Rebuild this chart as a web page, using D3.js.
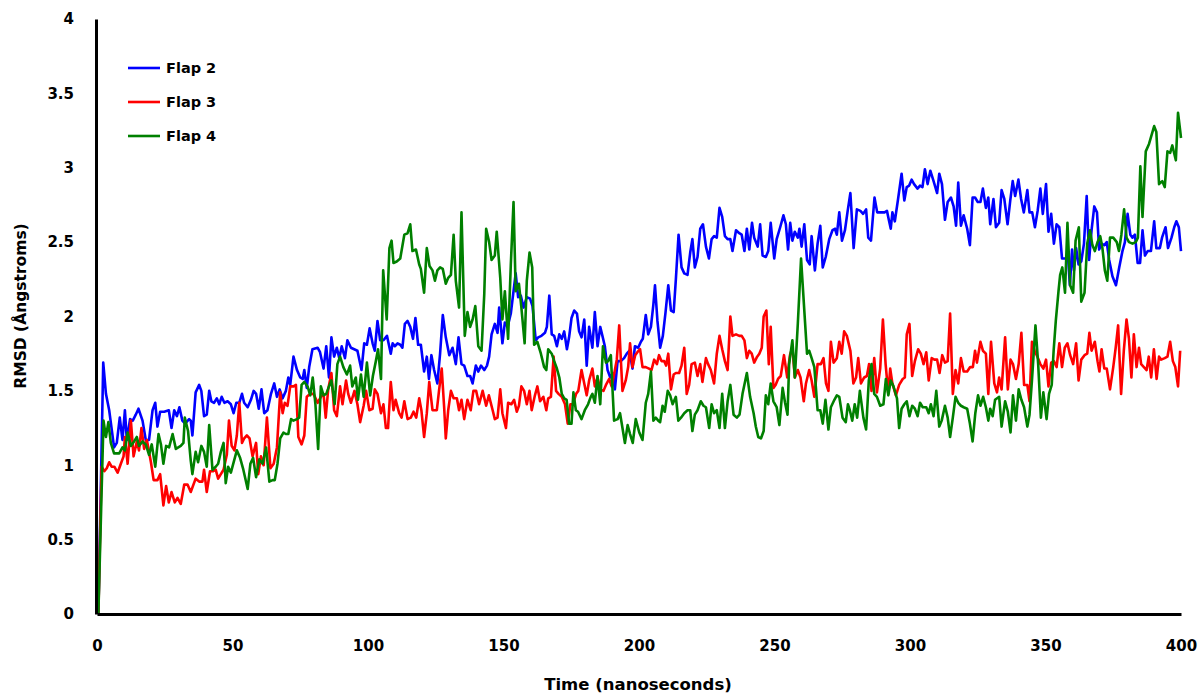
<!DOCTYPE html>
<html>
<head>
<meta charset="utf-8">
<script src="https://cdn.jsdelivr.net/npm/d3@7"></script>
<style>
  body { margin: 0; background: #fff; }
  svg text { font-family: "DejaVu Sans", Verdana, sans-serif; font-weight: bold; fill: #000; }
</style>
</head>
<body>
<div id="chart"></div>
<script>
// RMSD of three flaps over 400 ns, values as [time, rmsd]

const xTicks = [0, 50, 100, 150, 200, 250, 300, 350, 400];
const yTicks = [0, 0.5, 1, 1.5, 2, 2.5, 3, 3.5, 4];
const seriesNames = ['Flap 2', 'Flap 3', 'Flap 4'];
const seriesColors = ['#0000FF', '#FF0000', '#008000'];

const flap2 = [
  [0.5,0],[2.3,1.69],[3.3,1.48],[4.5,1.37],[6.3,1.12],[7.3,1.15],[8.4,1.32],[9.4,1.17],[10.3,1.37],[11,1.17],
  [12.2,1.31],[13.2,1.30],[14.3,1.34],[15.3,1.38],[16.8,1.30],[18,1.17],[19.2,1.17],[20.5,1.37],[21.5,1.42],[22.3,1.26],
  [23.3,1.36],[24.8,1.36],[26.5,1.37],[27.5,1.25],[28.5,1.37],[29.5,1.33],[30.4,1.39],[31.5,1.30],[32.5,1.28],[34,1.31],
  [34.6,1.30],[35.2,1.20],[36.4,1.49],[37.7,1.54],[38.5,1.50],[39.5,1.33],[40.5,1.34],[41.4,1.50],[42.2,1.43],[43.2,1.42],
  [44.2,1.45],[45.1,1.41],[46,1.46],[47,1.42],[48.2,1.43],[49.4,1.41],[50.4,1.35],[51.4,1.42],[52.5,1.42],[53.5,1.48],
  [54.3,1.42],[55.6,1.39],[56.8,1.44],[57.8,1.50],[58.7,1.48],[59.7,1.38],[60.7,1.51],[61.7,1.35],[62.9,1.37],[64.2,1.48],
  [65.4,1.55],[66.4,1.46],[67.4,1.51],[68.5,1.45],[69.7,1.50],[70.6,1.59],[71.3,1.54],[72.5,1.73],[73.8,1.64],[75,1.59],
  [75.9,1.58],[76.5,1.64],[77.4,1.52],[78.3,1.66],[79.5,1.78],[81.4,1.79],[82.3,1.76],[83.6,1.65],[84.6,1.80],[85.6,1.59],
  [86.5,1.86],[87.5,1.73],[88.5,1.79],[89.4,1.72],[90.3,1.80],[91.5,1.72],[92.4,1.84],[93.7,1.79],[94.9,1.78],[96.1,1.77],
  [97.6,1.64],[98.6,1.82],[99.6,1.81],[100.6,1.92],[101.7,1.82],[102.5,1.77],[103.5,1.97],[104.5,1.84],[105.7,1.84],[107,1.87],
  [108.4,1.75],[109.1,1.82],[109.9,1.80],[110.9,1.82],[111.9,1.81],[112.7,1.79],[113.6,1.95],[114.6,1.97],[115.6,1.93],[116.6,1.85],
  [117.5,1.99],[118.5,1.81],[119.5,1.81],[120.7,1.63],[121.7,1.73],[122.5,1.58],[123.4,1.74],[124.4,1.64],[125.6,1.55],[126.6,1.75],
  [127.6,2.01],[128.7,1.86],[130,1.74],[131.2,1.79],[132.4,1.68],[133.4,1.86],[134.5,1.68],[135.5,1.67],[136.7,1.60],[137.7,1.60],
  [138.6,1.55],[139.8,1.67],[140.7,1.63],[141.7,1.67],[142.9,1.64],[143.9,1.67],[144.7,1.73],[145.6,1.88],[146.8,1.95],[147.8,1.89],
  [148.4,2.06],[149.6,1.82],[150.5,1.96],[151.5,1.93],[152.7,2.02],[153.7,2.17],[154.5,2.29],[155.4,2.13],[156.4,2.14],[157.4,2.06],
  [158.6,2.13],[159.8,2.12],[160.7,2.07],[161.9,1.84],[162.8,1.86],[164,1.87],[165.3,1.89],[166,1.93],[166.9,2.14],[167.8,1.88],
  [168.7,1.87],[169.7,1.80],[170.6,1.88],[171.5,1.85],[172.4,1.90],[173.4,1.78],[174.2,1.86],[175.1,1.99],[176.1,2.04],[177.1,2.02],
  [177.9,1.90],[178.8,1.86],[179.8,1.98],[180.7,1.67],[181.6,1.93],[182.8,1.79],[183.7,2.03],[184.7,1.80],[185.7,1.93],[186.5,1.87],
  [187.4,1.80],[188.4,1.64],[189.4,1.59],[190.3,1.62],[191.1,1.51],[192.1,1.70],[193.3,1.70],[194.5,1.72],[195.5,1.75],[196.5,1.77],
  [197.6,1.65],[198.5,1.80],[199.7,1.79],[200.7,1.83],[201.4,1.85],[202.5,2.01],[203.4,1.88],[204.4,1.93],[205.3,2.08],[205.9,2.21],
  [206.8,1.97],[207.8,1.79],[208.8,1.87],[209.8,2.03],[210.8,2.21],[211.8,2.04],[212.8,2.03],[213.6,2.25],[214.6,2.55],[215.7,2.33],
  [216.7,2.29],[217.9,2.28],[218.9,2.43],[219.7,2.52],[220.6,2.33],[221.6,2.40],[222.6,2.59],[223.6,2.62],[224.7,2.47],[225.8,2.39],
  [226.8,2.52],[227.7,2.54],[228.7,2.53],[229.7,2.73],[230.7,2.67],[231.7,2.54],[232.7,2.52],[233.7,2.52],[234.5,2.44],[235.8,2.58],
  [237,2.56],[237.9,2.55],[238.9,2.44],[239.8,2.59],[240.7,2.45],[241.7,2.63],[242.5,2.53],[243.8,2.47],[244.7,2.62],[245.6,2.41],
  [246.8,2.40],[247.7,2.44],[248.6,2.63],[249.9,2.39],[250.8,2.52],[252.1,2.60],[253.3,2.68],[254.2,2.62],[255,2.45],[255.8,2.63],
  [256.6,2.51],[257.5,2.57],[258.6,2.53],[259.2,2.59],[260,2.47],[261,2.62],[262,2.38],[263,2.35],[263.7,2.54],[264.9,2.31],
  [265.9,2.49],[266.9,2.61],[267.8,2.33],[268.9,2.40],[270.2,2.52],[271.4,2.58],[272.3,2.59],[273,2.55],[273.9,2.70],[274.9,2.51],
  [276,2.58],[277,2.71],[278,2.83],[279.2,2.46],[280.4,2.72],[281.7,2.71],[282.7,2.69],[283.8,2.72],[284.6,2.53],[285.6,2.51],
  [286.9,2.80],[287.9,2.70],[289.1,2.70],[290.6,2.70],[291.5,2.71],[292.3,2.64],[292.9,2.59],[293.5,2.70],[294.4,2.64],[295.6,2.79],
  [296.9,2.96],[297.9,2.78],[298.8,2.87],[299.7,2.88],[300.6,2.92],[301.5,2.89],[302.8,2.86],[303.7,2.88],[304.6,2.87],[305.5,2.99],
  [306.5,2.89],[307.5,2.98],[308.7,2.91],[310,2.83],[310.8,2.96],[311.8,2.89],[312.9,2.65],[313.9,2.77],[315.1,2.80],[316.1,2.74],
  [317,2.61],[317.8,2.90],[318.8,2.61],[319.8,2.68],[321.1,2.59],[322.1,2.48],[323.1,2.80],[324,2.80],[325,2.77],[326,2.77],
  [326.9,2.86],[328,2.73],[328.9,2.80],[329.6,2.62],[330.8,2.79],[331.7,2.60],[332.9,2.63],[333.8,2.85],[334.8,2.79],[336,2.62],
  [337,2.78],[337.9,2.91],[338.8,2.81],[340,2.92],[341,2.79],[342,2.70],[343.3,2.85],[344.1,2.70],[345.1,2.70],[346.1,2.60],
  [347.1,2.71],[348.1,2.86],[349,2.69],[350.2,2.89],[351.1,2.57],[352.1,2.69],[353.1,2.49],[354.1,2.62],[355.1,2.60],[356.1,2.39],
  [357.3,2.39],[358.3,2.40],[359,2.21],[359.8,2.45],[360.5,2.31],[361.3,2.46],[362.2,2.35],[363.2,2.37],[364.2,2.49],[365.2,2.81],
  [366.1,2.38],[367,2.58],[368,2.74],[369,2.70],[369.8,2.45],[370.7,2.49],[371.7,2.48],[372.6,2.50],[373.5,2.38],[374.7,2.27],
  [376,2.21],[377.2,2.33],[378.4,2.44],[379.3,2.50],[380.3,2.69],[381.3,2.55],[382.1,2.53],[383,2.55],[384,2.36],[384.9,2.36],
  [385.8,2.58],[386.7,2.41],[387.7,2.44],[388.9,2.44],[390.1,2.64],[390.9,2.46],[392.2,2.46],[393,2.53],[394.3,2.60],[395.2,2.46],
  [396.5,2.53],[397.5,2.60],[398.3,2.64],[399.2,2.60],[400,2.44]
];

const flap3 = [
  [0.5,0],[1.7,0.99],[2.7,0.96],[3.6,0.98],[4.5,1.02],[5.4,0.99],[6.4,0.99],[7.6,0.95],[8.8,1.01],[9.8,1.06],
  [10.3,1.19],[11.3,1.01],[12.5,1.30],[13.5,1.06],[14.7,1.16],[15.5,1.10],[16.4,1.25],[17.4,1.11],[18.4,1.17],[19.9,1.02],
  [20.9,0.90],[22.3,0.90],[23.3,0.94],[24.5,0.73],[25.5,0.86],[26.5,0.75],[27.5,0.82],[28.7,0.75],[29.7,0.78],[30.9,0.74],
  [32.2,0.87],[33.4,0.87],[34.6,0.82],[36.4,0.91],[37.7,0.89],[38.9,0.89],[39.5,0.97],[40.5,0.82],[41.7,0.96],[42.9,0.96],
  [43.8,0.97],[44.7,0.91],[45.7,0.94],[46.7,0.97],[47.9,1.07],[48.7,1.30],[49.7,1.13],[50.7,1.10],[51.6,1.20],[52.5,1.42],
  [53.5,1.15],[54.3,1.18],[55.3,1.20],[56.3,1.18],[57.4,1.06],[58.7,1.15],[59.5,0.94],[60.5,1.06],[61.5,1.00],[62.7,1.32],
  [64,0.98],[65.2,1.01],[66.4,1.12],[67.6,1.49],[68.5,1.35],[69.3,1.42],[70.3,1.40],[71.3,1.53],[72.5,1.53],[73.4,1.54],
  [74.3,1.19],[75.5,1.14],[76.5,1.20],[77.4,1.46],[78.7,1.48],[79.9,1.48],[81.4,1.42],[82.6,1.46],[83.6,1.48],[84.4,1.32],
  [85.3,1.51],[86.5,1.62],[87.5,1.37],[88.5,1.33],[89.7,1.53],[90.6,1.41],[91.9,1.57],[92.7,1.48],[93.7,1.42],[95,1.50],
  [96.1,1.41],[97.1,1.29],[98.4,1.40],[99.3,1.50],[100.5,1.37],[101.7,1.38],[102.5,1.51],[103.5,1.48],[104.8,1.35],[105.7,1.41],
  [106.6,1.25],[107.4,1.25],[108.4,1.56],[109.4,1.37],[110.2,1.44],[111.5,1.35],[112.4,1.32],[113.4,1.43],[114.6,1.31],[115.8,1.32],
  [116.8,1.36],[117.8,1.32],[118.9,1.45],[119.7,1.37],[120.7,1.19],[121.7,1.35],[122.6,1.56],[123.8,1.37],[125.4,1.37],[126.2,1.50],
  [127.2,1.65],[128.1,1.39],[128.7,1.18],[129.6,1.37],[130.6,1.50],[131.6,1.45],[132.8,1.45],[133.6,1.37],[134.5,1.44],[135.5,1.31],
  [136.7,1.44],[137.9,1.37],[138.9,1.50],[139.9,1.50],[141,1.41],[142.3,1.50],[143.6,1.40],[144.6,1.47],[146,1.37],[146.8,1.31],
  [147.8,1.32],[148.8,1.51],[149.6,1.35],[150.9,1.25],[151.7,1.42],[152.9,1.41],[153.9,1.44],[154.9,1.36],[155.7,1.40],[156.6,1.53],
  [157.6,1.50],[158.6,1.41],[159.6,1.50],[160.4,1.37],[161.6,1.47],[162.5,1.53],[163.5,1.43],[164.7,1.46],[165.8,1.37],[166.5,1.45],
  [167.5,1.46],[168.5,1.73],[169.4,1.50],[170.3,1.48],[171.5,1.46],[172.7,1.41],[173.7,1.28],[174.7,1.41],[175.6,1.41],[176.8,1.48],
  [177.6,1.50],[178.8,1.64],[179.8,1.55],[180.7,1.47],[181.6,1.57],[182.8,1.65],[183.7,1.53],[184.7,1.59],[185.7,1.51],[186.9,1.50],
  [187.8,1.54],[189,1.58],[189.9,1.53],[190.8,1.61],[191.8,1.71],[192.7,1.94],[193.3,1.71],[193.9,1.50],[195.1,1.57],[196,1.66],
  [196.7,1.82],[197.6,1.66],[198.6,1.74],[199.4,1.76],[200.4,1.78],[201.3,1.66],[202.5,1.66],[203.7,1.65],[204.6,1.64],[205.6,1.71],
  [206.6,1.68],[207.4,1.74],[208.3,1.70],[209.3,1.70],[210,1.67],[210.8,1.75],[211.8,1.51],[212.8,1.61],[213.6,1.62],[214.8,1.62],
  [215.7,1.67],[216.7,1.79],[217.6,1.48],[218.5,1.54],[219.4,1.68],[220.6,1.69],[221.6,1.60],[222.6,1.68],[223.4,1.56],[224.7,1.72],
  [225.5,1.68],[226.5,1.64],[227.7,1.55],[228.7,1.75],[229.7,1.87],[230.7,1.78],[231.7,1.70],[232.7,1.64],[233.7,2.00],[234.5,1.87],
  [235.8,1.88],[237,1.87],[237.9,1.87],[238.9,1.84],[239.8,1.72],[240.7,1.77],[241.6,1.75],[242.5,1.69],[243.6,1.73],[244.4,1.75],
  [245.3,1.79],[246,2.00],[247,2.04],[247.9,1.68],[248.6,1.93],[249.6,1.52],[250.4,1.54],[251.3,1.58],[252.3,1.60],[253.5,1.74],
  [254.7,1.59],[255.7,1.74],[256.6,1.79],[257.5,1.59],[258.6,1.64],[259.6,1.59],[260.8,1.43],[261.6,1.55],[262.8,1.64],[263.7,1.57],
  [264.7,1.46],[265.9,1.68],[267.1,1.68],[268.1,1.72],[269,1.55],[269.9,1.50],[270.8,1.83],[271.8,1.69],[273,1.72],[273.9,1.83],
  [274.8,1.75],[275.7,1.90],[276.7,1.87],[278,1.77],[279.1,1.55],[280.1,1.59],[280.9,1.72],[281.9,1.55],[283.1,1.59],[284.1,1.60],
  [284.9,1.68],[285.8,1.50],[286.8,1.72],[287.8,1.49],[289,1.65],[290,1.98],[291,1.68],[292,1.48],[292.7,1.65],[293.5,1.55],
  [294.8,1.47],[296,1.54],[297.3,1.58],[298.1,1.59],[298.8,1.88],[299.8,1.95],[300.8,1.60],[301.8,1.70],[303,1.78],[304,1.75],
  [305,1.68],[306,1.76],[306.9,1.57],[308,1.72],[309,1.71],[310,1.71],[310.9,1.62],[311.9,1.74],[312.9,1.69],[313.9,1.70],
  [314.8,2.02],[315.8,1.48],[316.8,1.64],[317.8,1.55],[318.8,1.72],[319.8,1.63],[321.1,1.63],[322.2,1.66],[323.2,1.66],[324,1.77],
  [324.7,1.69],[326,1.83],[326.9,1.77],[328,1.75],[328.9,1.48],[329.9,1.83],[331.1,1.55],[332.1,1.49],[332.9,1.59],[333.8,1.51],
  [335.1,1.86],[336.1,1.51],[337.1,1.71],[338,1.68],[339.1,1.58],[340.1,1.68],[341.1,1.89],[342.1,1.54],[343.3,1.54],[344.1,1.43],
  [345,1.83],[346,1.77],[347,1.73],[348.1,1.68],[349.2,1.65],[350.2,1.71],[351.1,1.53],[352.1,1.69],[353.1,1.70],[354.1,1.66],
  [355.1,1.82],[356.1,1.66],[357.1,1.79],[358.1,1.82],[359.1,1.74],[360.2,1.68],[361.3,1.82],[362.2,1.57],[363.2,1.71],[364.4,1.74],
  [365.4,1.75],[366.2,1.89],[367,1.77],[368.2,1.83],[369.2,1.70],[369.9,1.63],[370.7,1.78],[371.7,1.65],[372.6,1.65],[373.8,1.51],
  [375,1.66],[375.9,1.79],[376.8,1.94],[377.9,1.48],[378.9,1.77],[379.9,1.98],[380.8,1.85],[381.7,1.59],[382.6,1.88],[383.6,1.66],
  [384.5,1.79],[385.3,1.68],[386.3,1.66],[387.3,1.64],[388.1,1.73],[389,1.59],[390,1.78],[391,1.58],[391.9,1.73],[392.7,1.71],
  [394,1.72],[395,1.73],[396,1.83],[397,1.70],[397.9,1.66],[398.9,1.53],[399.7,1.77]
];

const flap4 = [
  [0.5,0],[2.4,1.30],[3.3,1.19],[4.2,1.29],[5.1,1.15],[6.3,1.08],[8.2,1.08],[9.4,1.12],[10.3,1.10],[11.3,1.22],
  [12.5,1.13],[13.7,1.16],[14.7,1.19],[15.5,1.13],[16.8,1.16],[18,1.14],[19.2,1.07],[20.2,1.14],[21.5,0.99],[22.7,1.21],
  [23.6,1.14],[24.5,1.01],[25.5,1.13],[26.6,1.12],[27.9,1.21],[29.1,1.11],[30.9,1.13],[31.9,1.15],[32.4,1.32],[33.6,1.23],
  [34.6,1.03],[35.2,0.94],[36.4,1.09],[37.3,1.02],[38.5,1.13],[39.5,1.09],[40.5,0.99],[41.4,1.27],[42.6,0.97],[43.8,0.99],
  [44.7,1.01],[45.7,1.09],[46.7,1.15],[47.5,0.88],[48.4,0.99],[49.4,0.95],[51.6,1.10],[52.8,1.05],[54,0.97],[55.6,0.84],
  [56.6,1.01],[57.6,1.05],[58.7,0.92],[59.9,1.04],[61.1,1.01],[62.4,1.12],[63.6,0.89],[64.8,0.90],[65.6,0.90],[66.6,1.01],
  [67.6,1.18],[68.8,1.22],[69.7,1.21],[70.6,1.21],[71.6,1.31],[72.5,1.30],[73.8,1.31],[74.6,1.32],[75.5,1.54],[76.5,1.56],
  [77.7,1.53],[78.7,1.47],[79.6,1.59],[80.6,1.41],[81.6,1.11],[82.6,1.53],[83.6,1.47],[84.6,1.48],[85.6,1.53],[86.5,1.57],
  [87.7,1.41],[88.7,1.68],[89.7,1.73],[90.9,1.66],[92.2,1.61],[93.4,1.67],[94.2,1.53],[95.5,1.59],[96.3,1.44],[97.4,1.61],
  [98.4,1.46],[99.6,1.69],[100.8,1.47],[101.8,1.60],[102.9,1.70],[103.7,1.78],[104.8,1.58],[105.6,2.31],[106.9,1.98],[107.9,2.46],
  [108.7,2.51],[109.4,2.36],[110.6,2.37],[111.9,2.39],[113.4,2.55],[114.6,2.56],[115.6,2.62],[116.4,2.44],[117.7,2.45],[118.9,2.35],
  [119.5,2.32],[120.7,2.16],[121.7,2.46],[122.7,2.34],[123.8,2.31],[124.7,2.24],[125.6,2.31],[126.6,2.33],[127.6,2.32],[128.7,2.22],
  [129.6,2.26],[130.6,2.28],[131.6,2.55],[132.4,2.24],[133.6,2.06],[134.5,2.70],[135.7,1.87],[136.7,2.03],[137.7,1.93],[138.6,1.98],
  [139.6,2.07],[140.7,1.80],[141.9,1.77],[142.9,2.15],[143.6,2.59],[144.7,2.50],[145.6,2.38],[146.8,2.41],[147.5,2.57],[148.8,2.26],
  [149.6,1.98],[150.5,2.17],[151.7,1.85],[152.7,2.35],[153.7,2.77],[154.5,2.17],[155.7,2.22],[156.6,2.06],[157.8,1.82],[158.6,2.24],
  [159.6,2.43],[160.6,2.33],[161.3,1.81],[162.5,1.83],[163.8,1.75],[165,1.66],[165.8,1.64],[166.5,1.78],[167.8,1.75],[168.7,1.70],
  [169.7,1.65],[170.6,1.59],[171.5,1.48],[172.4,1.45],[173.3,1.44],[174.2,1.28],[175.1,1.28],[175.8,1.49],[176.7,1.37],[177.5,1.36],
  [178.8,1.31],[180,1.37],[181.2,1.41],[182.2,1.46],[182.8,1.48],[183.7,1.42],[184.7,1.60],[185.7,1.41],[186.7,1.80],[187.8,1.69],
  [188.6,1.70],[189.6,1.74],[190.8,1.30],[192.1,1.31],[193,1.35],[193.9,1.25],[194.8,1.15],[195.8,1.27],[196.7,1.21],[197.7,1.15],
  [198.8,1.31],[200.1,1.22],[201.3,1.17],[202.5,1.42],[203.4,1.48],[204.4,1.63],[205.3,1.30],[206.2,1.32],[207.1,1.30],[207.8,1.29],
  [208.7,1.40],[209.5,1.36],[210.6,1.50],[211.5,1.47],[212.4,1.41],[213.6,1.46],[214.5,1.30],[215.5,1.32],[216.7,1.35],[217.9,1.37],
  [218.9,1.37],[219.7,1.23],[220.6,1.34],[221.6,1.37],[222.8,1.43],[223.8,1.40],[224.7,1.39],[225.9,1.25],[226.8,1.41],[227.7,1.35],
  [228.7,1.37],[229.7,1.25],[230.7,1.48],[231.7,1.25],[232.7,1.43],[233.7,1.54],[234.9,1.34],[236.1,1.32],[237.1,1.34],[238.2,1.48],
  [239.8,1.62],[241,1.46],[242.3,1.35],[243.1,1.26],[244,1.19],[245,1.18],[246,1.23],[246.8,1.47],[247.7,1.41],[248.6,1.55],
  [249.6,1.43],[250.8,1.39],[251.8,1.27],[253,1.52],[253.9,1.42],[254.8,1.34],[255.4,1.68],[256.6,1.84],[257.5,1.59],[258.6,1.95],
  [259.8,2.39],[261,2.04],[262,1.75],[262.8,1.77],[263.7,1.72],[264.7,1.66],[265.9,1.37],[266.9,1.37],[267.8,1.28],[268.8,1.44],
  [269.9,1.24],[270.8,1.39],[272.1,1.44],[273,1.47],[273.9,1.46],[275.1,1.32],[276.3,1.29],[277.1,1.41],[277.8,1.37],[278.7,1.30],
  [279.6,1.41],[280.5,1.32],[281.5,1.50],[282.8,1.32],[283.8,1.24],[284.8,1.57],[285.8,1.68],[286.8,1.48],[287.8,1.46],[289,1.40],
  [290.2,1.41],[291.1,1.58],[292,1.47],[292.9,1.57],[293.9,1.53],[295.2,1.45],[296,1.25],[296.9,1.38],[297.9,1.41],[298.8,1.43],
  [299.8,1.33],[300.8,1.40],[301.8,1.38],[302.8,1.33],[303.7,1.42],[304.7,1.39],[306,1.39],[306.9,1.35],[307.7,1.41],[308.7,1.33],
  [309.7,1.50],[310.8,1.26],[311.7,1.30],[312.9,1.40],[313.9,1.32],[314.8,1.19],[315.8,1.32],[316.8,1.46],[317.8,1.42],[318.8,1.40],
  [319.8,1.39],[321.1,1.38],[322.1,1.28],[323.1,1.16],[324.1,1.35],[325.1,1.47],[326,1.40],[327,1.46],[328,1.39],[328.9,1.30],
  [329.6,1.38],[330.5,1.33],[331.4,1.44],[332.9,1.46],[333.8,1.26],[335.1,1.43],[336.1,1.36],[337.1,1.22],[338,1.47],[339.1,1.30],
  [340.1,1.51],[341.1,1.44],[342.1,1.39],[343.3,1.26],[344.1,1.34],[345,1.57],[346.3,1.94],[347.3,1.68],[348.3,1.32],[349.2,1.49],
  [350.4,1.31],[351.3,1.48],[352.3,1.54],[353,1.77],[353.8,1.97],[354.8,2.17],[355.4,2.28],[356.2,2.33],[357.2,2.16],[358.1,2.63],
  [359.1,2.21],[360.2,2.16],[361.1,2.51],[362.3,2.60],[363.2,2.10],[364.4,2.16],[365.4,2.49],[366.4,2.58],[367.3,2.48],[368.2,2.44],
  [369.2,2.50],[370.2,2.54],[371,2.46],[371.9,2.31],[372.8,2.24],[373.8,2.53],[375,2.53],[376.3,2.50],[377.1,2.44],[378,2.55],
  [379,2.72],[379.9,2.53],[380.8,2.50],[382.1,2.49],[383.3,2.50],[384.1,2.53],[385,3.01],[385.8,2.67],[387,3.11],[388.2,3.16],
  [390.1,3.28],[390.9,3.24],[391.9,2.89],[393.1,2.91],[394,2.87],[395,3.11],[396,3.10],[396.8,3.15],[398.1,3.05],[398.9,3.37],
  [399.7,3.25],[400,3.20]
];

const seriesData = [flap2, flap3, flap4];

const width = 1203;
const height = 694;
const margin = { top: 19, right: 22, bottom: 80, left: 97 };

const svg = d3.select('#chart').append('svg')
    .attr('width', width)
    .attr('height', height);

const x = d3.scaleLinear()
    .domain([0, 400])
    .range([margin.left, width - margin.right]);

const y = d3.scaleLinear()
    .domain([0, 4])
    .range([height - margin.bottom, margin.top]);

// Series lines (Flap 4 drawn last, on top)
const line = d3.line()
    .x(d => x(d[0]))
    .y(d => y(d[1]));

seriesData.forEach((data, i) => {
    svg.append('path')
        .datum(data)
        .attr('fill', 'none')
        .attr('stroke', seriesColors[i])
        .attr('stroke-width', 2.6)
        .attr('stroke-linejoin', 'round')
        .attr('d', line);
});

// Axes: thick black lines, no tick marks
const xAxis = svg.append('g')
    .attr('transform', `translate(0, ${y(0)})`)
    .call(d3.axisBottom(x).tickValues(xTicks).tickSize(0).tickPadding(26).tickFormat(d3.format('d')));

const yAxis = svg.append('g')
    .attr('transform', `translate(${x(0) - 1}, 0)`)
    .call(d3.axisLeft(y).tickValues(yTicks).tickSize(0).tickPadding(22).tickFormat(d => String(d)));

[xAxis, yAxis].forEach(a => {
    a.select('.domain').attr('stroke', '#000').attr('stroke-width', 3);
    a.selectAll('text')
        .attr('font-family', '"DejaVu Sans", Verdana, sans-serif')
        .attr('font-weight', 'bold')
        .attr('font-size', '15px')
        .attr('fill', '#000');
});

// Axis titles
svg.append('text')
    .attr('x', 638)
    .attr('y', 690)
    .attr('text-anchor', 'middle')
    .attr('font-size', '16.5px')
    .text('Time (nanoseconds)');

svg.append('text')
    .attr('transform', 'translate(26, 306) rotate(-90)')
    .attr('text-anchor', 'middle')
    .attr('font-size', '15.5px')
    .text('RMSD (Ångstroms)');

// Legend
const legend = svg.append('g')
    .attr('transform', 'translate(128, 68)');

const legendItems = legend.selectAll('.legend-item')
    .data(seriesNames)
    .enter()
    .append('g')
    .attr('class', 'legend-item')
    .attr('transform', (d, i) => `translate(0, ${i * 34})`);

legendItems.append('line')
    .attr('x1', 0)
    .attr('x2', 32)
    .attr('stroke', (d, i) => seriesColors[i])
    .attr('stroke-width', 2.6);

legendItems.append('text')
    .attr('x', 38)
    .attr('y', 5)
    .attr('font-size', '14.5px')
    .text(d => d);
</script>
</body>
</html>
